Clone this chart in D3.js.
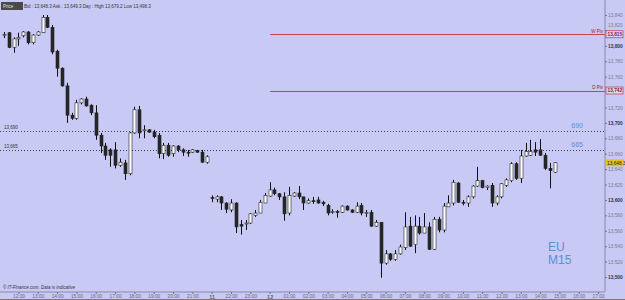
<!DOCTYPE html>
<html>
<head>
<meta charset="utf-8">
<script src="https://cdn.jsdelivr.net/npm/d3@7/dist/d3.min.js"></script>
<style>
  body { margin: 0; background: #c9c9f6; }
  svg { display: block; font-family: "Liberation Sans", Arial, sans-serif; }
</style>
</head>
<body>
<svg id="chart" width="625" height="300"></svg>
<script>
// M15 candles, oldest first
const opens = [13814,13817,13798,13809,13813,13818,13804,13814,13817,13837,13824,13793,13771,13748,13710,13706,13726,13731,13723,13713,13684,13670,13665,13665,13645,13648,13634,13687,13717,13690,13691,13688,13684,13660,13671,13660,13670,13665,13662,13662,13664,13662,13649,
  13603,13601,13604,13596,13587,13596,13568,13569,13570,13580,13583,13596,13605,13613,13608,13604,13583,13605,13609,13604,13596,13599,13600,13597,13593,13584,13585,13584,13592,13587,13584,13593,13583,13584,13566,13571,13518,13530,13523,13530,13538,13566,13542,13566,13557,13565,13536,13575,13561,13591,13596,13622,13597,13596,13604,13618,13625,13616,13619,13596,13604,13619,13625,13647,13628,13657,13658,13665,13665,13658,13641,13636];
const highs = [13818,13818,13811,13817,13819,13819,13815,13819,13840,13840,13827,13795,13772,13752,13713,13730,13732,13734,13724,13723,13687,13674,13667,13675,13654,13652,13688,13721,13722,13697,13692,13691,13687,13674,13674,13671,13671,13667,13665,13666,13665,13665,13658,
  13606,13606,13605,13597,13601,13597,13574,13574,13583,13587,13600,13609,13623,13616,13609,13610,13617,13610,13618,13604,13602,13604,13604,13599,13595,13588,13587,13593,13593,13588,13597,13596,13587,13587,13574,13571,13535,13531,13535,13542,13584,13578,13580,13578,13583,13571,13578,13578,13596,13606,13626,13623,13600,13606,13619,13643,13626,13619,13622,13606,13622,13628,13649,13649,13665,13674,13678,13675,13679,13661,13648,13649];
const lows = [13810,13797,13791,13800,13811,13802,13802,13813,13817,13823,13789,13760,13747,13700,13704,13704,13724,13721,13710,13678,13661,13652,13643,13641,13643,13626,13632,13686,13680,13680,13687,13680,13654,13653,13656,13656,13662,13657,13656,13661,13661,13648,13647,
  13597,13597,13587,13583,13584,13557,13555,13561,13569,13578,13583,13596,13604,13606,13600,13573,13580,13604,13601,13587,13595,13595,13595,13592,13580,13582,13577,13583,13586,13583,13583,13580,13578,13565,13565,13499,13516,13521,13521,13529,13535,13539,13531,13555,13557,13535,13535,13558,13558,13591,13593,13596,13593,13591,13602,13617,13615,13613,13591,13593,13602,13617,13623,13626,13622,13656,13657,13657,13657,13639,13615,13635];
const closes = [13815,13798,13809,13811,13818,13804,13814,13818,13837,13824,13792,13771,13748,13710,13706,13726,13731,13722,13713,13684,13670,13658,13658,13645,13649,13634,13687,13717,13687,13691,13688,13682,13660,13671,13658,13670,13665,13662,13661,13665,13662,13649,13656,
  13602,13604,13596,13588,13596,13565,13566,13570,13582,13583,13597,13606,13613,13608,13604,13582,13606,13609,13604,13596,13599,13598,13596,13595,13583,13585,13584,13592,13587,13584,13592,13583,13584,13566,13571,13518,13530,13523,13530,13539,13565,13540,13566,13557,13565,13536,13575,13561,13592,13596,13623,13597,13596,13604,13618,13625,13616,13618,13596,13604,13621,13626,13647,13628,13657,13663,13663,13662,13658,13641,13638,13648.3];

// bottom axis labels, one per hour (every 4th candle from index 3)
const timeLabels = ["12:00","13:00","14:00","15:00","16:00","17:00","18:00","19:00","20:00","21:00","11",
  "22:00","23:00","12","01:00","02:00","03:00","04:00","05:00","06:00","07:00","08:00","09:00","10:00",
  "11:00","12:00","13:00","14:00","15:00","16:00","17:00"];
const dayLabels = ["11", "12"];

const pivots = [ { name: "W Piv", value: 13815 }, { name: "D Piv", value: 13742 } ];
const dottedLevels = [13690, 13665];
const lastPrice = 13648.3;
const header = "Bid : 13,648.3  Ask : 13,649.3   Day : High 13,679.2  Low 13,498.3";

const candles = opens.map((o, i) => ({ i: i, o: o, h: highs[i], l: lows[i], c: closes[i] }));

const svg = d3.select('#chart');
const plotRight = 605, axisY = 292;

const x = d3.scaleLinear().domain([0, candles.length - 1]).range([4, 4 + (candles.length - 1) * 4.83]);
const y = d3.scaleLinear().domain([13500, 13840]).range([277, 15]);

svg.append('rect').attr('width', 625).attr('height', 300).attr('fill', '#c9c9f6');

// dotted levels
svg.selectAll('line.dot')
  .data(dottedLevels)
  .enter().append('line')
  .attr('x1', 0).attr('x2', plotRight)
  .attr('y1', d => Math.round(y(d)) + 0.5).attr('y2', d => Math.round(y(d)) + 0.5)
  .attr('stroke', '#444').attr('stroke-dasharray', '1,2');

svg.selectAll('text.dotl')
  .data(dottedLevels)
  .enter().append('text')
  .attr('x', 4).attr('y', d => y(d) - 2)
  .style('font-size', '4.5px').style('fill', '#333')
  .text(d => d3.format(',')(d));

svg.selectAll('text.dotr')
  .data(dottedLevels)
  .enter().append('text')
  .attr('x', 583).attr('y', d => y(d) - 3)
  .style('text-anchor', 'end')
  .style('font-size', '7px').style('fill', '#5b8ed6')
  .text(d => String(d).slice(-3));

// pivot lines
svg.selectAll('line.piv')
  .data(pivots)
  .enter().append('line')
  .attr('x1', 270).attr('x2', plotRight)
  .attr('y1', d => Math.round(y(d.value)) + 0.5).attr('y2', d => Math.round(y(d.value)) + 0.5)
  .attr('stroke', '#c04848').attr('stroke-width', 1);

svg.selectAll('text.piv')
  .data(pivots)
  .enter().append('text')
  .attr('x', 603).attr('y', d => y(d.value) - 1.5)
  .style('text-anchor', 'end')
  .style('font-size', '4.5px').style('fill', '#a02020')
  .text(d => d.name);

// candles
const g = svg.append('g');
g.selectAll('line.wick')
  .data(candles)
  .enter().append('line')
  .attr('x1', d => Math.round(x(d.i)) + 0.5).attr('x2', d => Math.round(x(d.i)) + 0.5)
  .attr('y1', d => y(d.h)).attr('y2', d => y(d.l))
  .attr('stroke', '#111').attr('stroke-width', 1);

g.selectAll('rect.body')
  .data(candles)
  .enter().append('rect')
  .attr('x', d => Math.round(x(d.i)) - 1)
  .attr('y', d => y(Math.max(d.o, d.c)))
  .attr('width', 3)
  .attr('height', d => Math.max(1, Math.abs(y(d.o) - y(d.c))))
  .attr('fill', d => d.c >= d.o ? '#ffffff' : '#262626')
  .attr('stroke', '#222').attr('stroke-width', 0.6);

// right axis (labels hidden under the pivot boxes are dropped)
const yTicks = d3.range(13500, 13841, 20).filter(t => !pivots.some(p => Math.abs(y(t) - y(p.value)) < 2.5));
const yAxis = svg.append('g')
  .attr('transform', `translate(${plotRight},0)`)
  .call(d3.axisRight(y).tickValues(yTicks).tickSize(2).tickPadding(1)
    .tickFormat(d3.format(',')));
yAxis.select('.domain').attr('d', `M0,0V${axisY}`).attr('stroke', '#8888aa');
yAxis.selectAll('.tick line').attr('stroke', '#777');
yAxis.selectAll('.tick text')
  .attr('dy', d => pivots.some(p => Math.abs(y(d) - y(p.value)) < 6) ? '-0.8em' : '0.32em')
  .style('font-size', '4.8px')
  .style('font-family', '"Liberation Sans", Arial, sans-serif')
  .style('fill', d => d % 100 === 0 ? '#334' : '#7a7a8a')
  .style('font-weight', d => d % 100 === 0 ? 'bold' : 'normal');

// pivot value boxes on the axis
pivots.forEach(p => {
  const yy = y(p.value);
  svg.append('rect').attr('x', 606).attr('y', yy - 3.5).attr('width', 17).attr('height', 7)
    .attr('fill', '#d6d6f8').attr('stroke', '#b04040').attr('stroke-width', 0.7);
  svg.append('text').attr('x', 607.5).attr('y', yy + 1.8)
    .style('font-size', '4.8px').style('fill', '#902020').style('font-weight', 'bold')
    .text(d3.format(',')(p.value));
});

// last price tag
svg.append('rect').attr('x', 606).attr('y', y(lastPrice) - 3.5).attr('width', 18).attr('height', 7)
  .attr('fill', '#e8c21a');
svg.append('text').attr('x', 607).attr('y', y(lastPrice) + 1.8)
  .style('font-size', '4.8px').style('fill', '#222')
  .text(d3.format(',.1f')(lastPrice));

// bottom axis
const tickIdx = timeLabels.map((t, k) => 3 + 4 * k);
const xAxis = svg.append('g')
  .attr('transform', `translate(0,${axisY})`)
  .call(d3.axisBottom(x).tickValues(tickIdx).tickSize(2).tickPadding(1)
    .tickFormat((d, k) => timeLabels[k]));
xAxis.select('.domain').attr('d', `M0,0H${plotRight}`).attr('stroke', '#8888aa');
xAxis.selectAll('.tick line').attr('stroke', '#777');
xAxis.selectAll('.tick text')
  .style('font-size', d => dayLabels.includes(timeLabels[tickIdx.indexOf(d)]) ? '5.5px' : '4.8px')
  .style('font-weight', d => dayLabels.includes(timeLabels[tickIdx.indexOf(d)]) ? 'bold' : 'normal')
  .style('font-family', '"Liberation Sans", Arial, sans-serif')
  .style('fill', '#667');

svg.append('line').attr('x1', 0).attr('x2', 625).attr('y1', 299.5).attr('y2', 299.5)
  .attr('stroke', '#8a7468');

// header
svg.append('rect').attr('x', 1).attr('y', 2).attr('width', 22).attr('height', 8).attr('fill', '#4a4a4a');
svg.append('text').attr('x', 3).attr('y', 7.8).style('font-size', '4.5px').style('fill', '#e0e0e0').text('Price');
svg.append('text').attr('x', 24).attr('y', 7.8).style('font-size', '4.5px').style('fill', '#333').text(header);

svg.append('text').attr('x', 3).attr('y', 289)
  .style('font-size', '4.5px').style('font-style', 'italic').style('fill', '#333')
  .text('© IT-Finance.com. Data is indicative');

// instrument / timeframe
svg.append('text').attr('x', 548).attr('y', 251).style('font-size', '12px').style('fill', '#5b8ed6').text('EU');
svg.append('text').attr('x', 548).attr('y', 264).style('font-size', '12px').style('fill', '#5b8ed6').text('M15');
</script>
</body>
</html>
